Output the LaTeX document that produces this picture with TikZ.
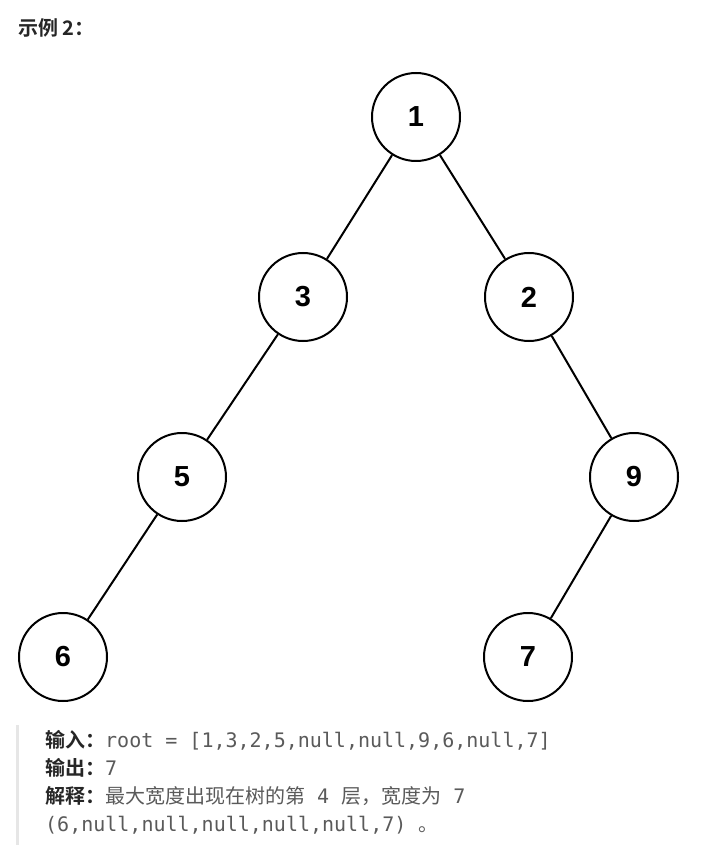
\documentclass[tikz,border=0pt]{standalone}
\usepackage{fontspec}
\setmainfont{Noto Sans CJK SC}[BoldFont={Noto Sans CJK SC Bold}]
\setmonofont{DejaVu Sans Mono}
\newfontfamily\numfont{Liberation Sans}
\definecolor{labcol}{HTML}{262626}
\definecolor{txtcol}{HTML}{5A5A5A}
\definecolor{barcol}{HTML}{E6E6E6}
\newcommand{\lab}[1]{{\color{labcol}\bfseries #1}}
\tikzset{
  tnode/.style={circle,draw,line width=2pt,minimum size=88pt,inner sep=0pt,
    font=\numfont\bfseries\fontsize{29}{29}\selectfont},
  tedge/.style={line width=2pt},
  txt/.style={anchor=base west,inner sep=0pt,text=txtcol,
    font=\fontsize{20}{20}\selectfont}
}
\begin{document}
\begin{tikzpicture}[x=1pt,y=-1pt]
\useasboundingbox[fill=white] (0,0) rectangle (715,858);
\node[txt] (title) at (18,36) {\lab{示例 2：}};

\node[tnode] (n1) at (416,117) {1};
\node[tnode] (n3) at (303,297) {3};
\node[tnode] (n2) at (529,297) {2};
\node[tnode] (n5) at (182,477) {5};
\node[tnode] (n9) at (634,477) {9};
\node[tnode] (n6) at (63,657) {6};
\node[tnode] (n7) at (528,657) {7};

\draw[tedge] (n1) -- (n3);
\draw[tedge] (n1) -- (n2);
\draw[tedge] (n3) -- (n5);
\draw[tedge] (n2) -- (n9);
\draw[tedge] (n5) -- (n6);
\draw[tedge] (n9) -- (n7);

\fill[barcol] (16,725) rectangle (19,845);
\node[txt] (inp) at (45,747) {\lab{输入：}\ttfamily root = [1,3,2,5,null,null,9,6,null,7]};
\node[txt] (outp) at (45,775) {\lab{输出：}\ttfamily 7};
\node[txt] (expl) at (45,803) {\lab{解释：}最大宽度出现在树的第{\ttfamily\ 4\ }层，宽度为{\ttfamily\ 7}};
\node[txt] (expl2) at (45,831) {\ttfamily(6,null,null,null,null,null,7)\ \rmfamily 。};
\end{tikzpicture}
\end{document}
